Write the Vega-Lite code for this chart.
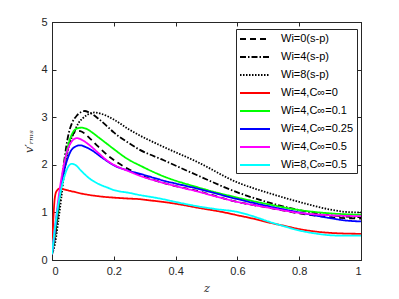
{
  "$schema": "https://vega.github.io/schema/vega-lite/v6.json",
  "width": 309,
  "height": 238,
  "autosize": "none",
  "padding": {"left": 52, "top": 22, "right": 38, "bottom": 39},
  "background": "white",
  "config": {
    "view": {"stroke": "#262626", "strokeWidth": 1},
    "axis": {
      "grid": false,
      "domainColor": "#262626",
      "tickColor": "#262626",
      "labelColor": "#262626",
      "titleColor": "#262626",
      "labelFont": "Liberation Sans",
      "labelFontSize": 11,
      "tickSize": -4,
      "labelFontWeight": "normal"
    },
    "legend": {
      "symbolType": "M-2.5,0H2.5",
      "symbolSize": 144,
      "symbolOffset": 9,
      "symbolStrokeWidth": 2,
      "labelOffset": 19,
      "labelFont": "Liberation Sans",
      "labelFontSize": 11,
      "labelColor": "#000000",
      "strokeColor": "#262626",
      "fillColor": "white",
      "padding": 3,
      "rowPadding": 6
    }
  },
  "datasets": {
    "d": [
      {"s": "Wi=0(s-p)", "z": 0, "v": 0.12}, {"s": "Wi=0(s-p)", "z": 0.01, "v": 0.55}, {"s": "Wi=0(s-p)", "z": 0.02, "v": 1.05}, {"s": "Wi=0(s-p)", "z": 0.03, "v": 1.55}, {"s": "Wi=0(s-p)", "z": 0.04, "v": 1.95}, {"s": "Wi=0(s-p)", "z": 0.05, "v": 2.3}, {"s": "Wi=0(s-p)", "z": 0.065, "v": 2.6}, {"s": "Wi=0(s-p)", "z": 0.08, "v": 2.72}, {"s": "Wi=0(s-p)", "z": 0.095, "v": 2.7}, {"s": "Wi=0(s-p)", "z": 0.12, "v": 2.57}, {"s": "Wi=0(s-p)", "z": 0.15, "v": 2.38}, {"s": "Wi=0(s-p)", "z": 0.18, "v": 2.2}, {"s": "Wi=0(s-p)", "z": 0.2, "v": 2.1}, {"s": "Wi=0(s-p)", "z": 0.25, "v": 1.9}, {"s": "Wi=0(s-p)", "z": 0.28, "v": 1.8}, {"s": "Wi=0(s-p)", "z": 0.36, "v": 1.62}, {"s": "Wi=0(s-p)", "z": 0.47, "v": 1.45}, {"s": "Wi=0(s-p)", "z": 0.6, "v": 1.22}, {"s": "Wi=0(s-p)", "z": 0.7, "v": 1.1}, {"s": "Wi=0(s-p)", "z": 0.8, "v": 0.98}, {"s": "Wi=0(s-p)", "z": 0.9, "v": 0.9}, {"s": "Wi=0(s-p)", "z": 1.0, "v": 0.87},

      {"s": "Wi=4(s-p)", "z": 0, "v": 0.12}, {"s": "Wi=4(s-p)", "z": 0.01, "v": 0.5}, {"s": "Wi=4(s-p)", "z": 0.02, "v": 1.0}, {"s": "Wi=4(s-p)", "z": 0.03, "v": 1.55}, {"s": "Wi=4(s-p)", "z": 0.04, "v": 2.1}, {"s": "Wi=4(s-p)", "z": 0.052, "v": 2.6}, {"s": "Wi=4(s-p)", "z": 0.065, "v": 2.88}, {"s": "Wi=4(s-p)", "z": 0.08, "v": 3.03}, {"s": "Wi=4(s-p)", "z": 0.095, "v": 3.11}, {"s": "Wi=4(s-p)", "z": 0.106, "v": 3.13}, {"s": "Wi=4(s-p)", "z": 0.12, "v": 3.1}, {"s": "Wi=4(s-p)", "z": 0.15, "v": 2.97}, {"s": "Wi=4(s-p)", "z": 0.18, "v": 2.8}, {"s": "Wi=4(s-p)", "z": 0.2, "v": 2.68}, {"s": "Wi=4(s-p)", "z": 0.25, "v": 2.45}, {"s": "Wi=4(s-p)", "z": 0.28, "v": 2.33}, {"s": "Wi=4(s-p)", "z": 0.36, "v": 2.1}, {"s": "Wi=4(s-p)", "z": 0.47, "v": 1.78}, {"s": "Wi=4(s-p)", "z": 0.6, "v": 1.42}, {"s": "Wi=4(s-p)", "z": 0.7, "v": 1.21}, {"s": "Wi=4(s-p)", "z": 0.8, "v": 1.05}, {"s": "Wi=4(s-p)", "z": 0.9, "v": 0.94}, {"s": "Wi=4(s-p)", "z": 1.0, "v": 0.9},

      {"s": "Wi=8(s-p)", "z": 0, "v": 0.12}, {"s": "Wi=8(s-p)", "z": 0.01, "v": 0.35}, {"s": "Wi=8(s-p)", "z": 0.02, "v": 0.8}, {"s": "Wi=8(s-p)", "z": 0.03, "v": 1.3}, {"s": "Wi=8(s-p)", "z": 0.04, "v": 1.85}, {"s": "Wi=8(s-p)", "z": 0.05, "v": 2.25}, {"s": "Wi=8(s-p)", "z": 0.06, "v": 2.5}, {"s": "Wi=8(s-p)", "z": 0.073, "v": 2.7}, {"s": "Wi=8(s-p)", "z": 0.085, "v": 2.87}, {"s": "Wi=8(s-p)", "z": 0.1, "v": 2.98}, {"s": "Wi=8(s-p)", "z": 0.12, "v": 3.07}, {"s": "Wi=8(s-p)", "z": 0.138, "v": 3.1}, {"s": "Wi=8(s-p)", "z": 0.16, "v": 3.07}, {"s": "Wi=8(s-p)", "z": 0.2, "v": 2.95}, {"s": "Wi=8(s-p)", "z": 0.25, "v": 2.74}, {"s": "Wi=8(s-p)", "z": 0.28, "v": 2.63}, {"s": "Wi=8(s-p)", "z": 0.36, "v": 2.38}, {"s": "Wi=8(s-p)", "z": 0.47, "v": 2.06}, {"s": "Wi=8(s-p)", "z": 0.6, "v": 1.63}, {"s": "Wi=8(s-p)", "z": 0.7, "v": 1.41}, {"s": "Wi=8(s-p)", "z": 0.8, "v": 1.22}, {"s": "Wi=8(s-p)", "z": 0.9, "v": 1.06}, {"s": "Wi=8(s-p)", "z": 0.95, "v": 1.01}, {"s": "Wi=8(s-p)", "z": 1.0, "v": 1.0},

      {"s": "Wi=4,C∞=0", "z": 0, "v": 0.12}, {"s": "Wi=4,C∞=0", "z": 0.004, "v": 0.8}, {"s": "Wi=4,C∞=0", "z": 0.009, "v": 1.3}, {"s": "Wi=4,C∞=0", "z": 0.015, "v": 1.45}, {"s": "Wi=4,C∞=0", "z": 0.025, "v": 1.5}, {"s": "Wi=4,C∞=0", "z": 0.035, "v": 1.49}, {"s": "Wi=4,C∞=0", "z": 0.06, "v": 1.45}, {"s": "Wi=4,C∞=0", "z": 0.1, "v": 1.39}, {"s": "Wi=4,C∞=0", "z": 0.15, "v": 1.34}, {"s": "Wi=4,C∞=0", "z": 0.2, "v": 1.31}, {"s": "Wi=4,C∞=0", "z": 0.25, "v": 1.29}, {"s": "Wi=4,C∞=0", "z": 0.28, "v": 1.28}, {"s": "Wi=4,C∞=0", "z": 0.32, "v": 1.25}, {"s": "Wi=4,C∞=0", "z": 0.36, "v": 1.22}, {"s": "Wi=4,C∞=0", "z": 0.42, "v": 1.16}, {"s": "Wi=4,C∞=0", "z": 0.47, "v": 1.1}, {"s": "Wi=4,C∞=0", "z": 0.55, "v": 1.01}, {"s": "Wi=4,C∞=0", "z": 0.6, "v": 0.94}, {"s": "Wi=4,C∞=0", "z": 0.65, "v": 0.87}, {"s": "Wi=4,C∞=0", "z": 0.7, "v": 0.79}, {"s": "Wi=4,C∞=0", "z": 0.75, "v": 0.72}, {"s": "Wi=4,C∞=0", "z": 0.8, "v": 0.65}, {"s": "Wi=4,C∞=0", "z": 0.85, "v": 0.6}, {"s": "Wi=4,C∞=0", "z": 0.9, "v": 0.57}, {"s": "Wi=4,C∞=0", "z": 0.95, "v": 0.555}, {"s": "Wi=4,C∞=0", "z": 1.0, "v": 0.55},

      {"s": "Wi=4,C∞=0.1", "z": 0, "v": 0.12}, {"s": "Wi=4,C∞=0.1", "z": 0.01, "v": 0.6}, {"s": "Wi=4,C∞=0.1", "z": 0.02, "v": 1.1}, {"s": "Wi=4,C∞=0.1", "z": 0.03, "v": 1.6}, {"s": "Wi=4,C∞=0.1", "z": 0.04, "v": 2.0}, {"s": "Wi=4,C∞=0.1", "z": 0.052, "v": 2.4}, {"s": "Wi=4,C∞=0.1", "z": 0.065, "v": 2.65}, {"s": "Wi=4,C∞=0.1", "z": 0.08, "v": 2.76}, {"s": "Wi=4,C∞=0.1", "z": 0.095, "v": 2.78}, {"s": "Wi=4,C∞=0.1", "z": 0.11, "v": 2.76}, {"s": "Wi=4,C∞=0.1", "z": 0.13, "v": 2.68}, {"s": "Wi=4,C∞=0.1", "z": 0.15, "v": 2.58}, {"s": "Wi=4,C∞=0.1", "z": 0.18, "v": 2.43}, {"s": "Wi=4,C∞=0.1", "z": 0.2, "v": 2.33}, {"s": "Wi=4,C∞=0.1", "z": 0.25, "v": 2.1}, {"s": "Wi=4,C∞=0.1", "z": 0.28, "v": 2.0}, {"s": "Wi=4,C∞=0.1", "z": 0.36, "v": 1.76}, {"s": "Wi=4,C∞=0.1", "z": 0.47, "v": 1.53}, {"s": "Wi=4,C∞=0.1", "z": 0.6, "v": 1.31}, {"s": "Wi=4,C∞=0.1", "z": 0.7, "v": 1.17}, {"s": "Wi=4,C∞=0.1", "z": 0.8, "v": 1.05}, {"s": "Wi=4,C∞=0.1", "z": 0.9, "v": 0.98}, {"s": "Wi=4,C∞=0.1", "z": 1.0, "v": 0.95},

      {"s": "Wi=4,C∞=0.25", "z": 0, "v": 0.12}, {"s": "Wi=4,C∞=0.25", "z": 0.01, "v": 0.65}, {"s": "Wi=4,C∞=0.25", "z": 0.02, "v": 1.15}, {"s": "Wi=4,C∞=0.25", "z": 0.03, "v": 1.6}, {"s": "Wi=4,C∞=0.25", "z": 0.04, "v": 1.9}, {"s": "Wi=4,C∞=0.25", "z": 0.05, "v": 2.12}, {"s": "Wi=4,C∞=0.25", "z": 0.06, "v": 2.28}, {"s": "Wi=4,C∞=0.25", "z": 0.075, "v": 2.38}, {"s": "Wi=4,C∞=0.25", "z": 0.09, "v": 2.41}, {"s": "Wi=4,C∞=0.25", "z": 0.11, "v": 2.37}, {"s": "Wi=4,C∞=0.25", "z": 0.13, "v": 2.3}, {"s": "Wi=4,C∞=0.25", "z": 0.16, "v": 2.16}, {"s": "Wi=4,C∞=0.25", "z": 0.18, "v": 2.07}, {"s": "Wi=4,C∞=0.25", "z": 0.2, "v": 1.99}, {"s": "Wi=4,C∞=0.25", "z": 0.236, "v": 1.9}, {"s": "Wi=4,C∞=0.25", "z": 0.28, "v": 1.82}, {"s": "Wi=4,C∞=0.25", "z": 0.36, "v": 1.67}, {"s": "Wi=4,C∞=0.25", "z": 0.47, "v": 1.5}, {"s": "Wi=4,C∞=0.25", "z": 0.6, "v": 1.28}, {"s": "Wi=4,C∞=0.25", "z": 0.7, "v": 1.13}, {"s": "Wi=4,C∞=0.25", "z": 0.8, "v": 1.0}, {"s": "Wi=4,C∞=0.25", "z": 0.9, "v": 0.88}, {"s": "Wi=4,C∞=0.25", "z": 0.95, "v": 0.83}, {"s": "Wi=4,C∞=0.25", "z": 1.0, "v": 0.81},

      {"s": "Wi=4,C∞=0.5", "z": 0, "v": 0.12}, {"s": "Wi=4,C∞=0.5", "z": 0.01, "v": 0.7}, {"s": "Wi=4,C∞=0.5", "z": 0.02, "v": 1.25}, {"s": "Wi=4,C∞=0.5", "z": 0.03, "v": 1.7}, {"s": "Wi=4,C∞=0.5", "z": 0.04, "v": 2.05}, {"s": "Wi=4,C∞=0.5", "z": 0.05, "v": 2.3}, {"s": "Wi=4,C∞=0.5", "z": 0.065, "v": 2.5}, {"s": "Wi=4,C∞=0.5", "z": 0.08, "v": 2.56}, {"s": "Wi=4,C∞=0.5", "z": 0.095, "v": 2.53}, {"s": "Wi=4,C∞=0.5", "z": 0.12, "v": 2.42}, {"s": "Wi=4,C∞=0.5", "z": 0.15, "v": 2.25}, {"s": "Wi=4,C∞=0.5", "z": 0.18, "v": 2.08}, {"s": "Wi=4,C∞=0.5", "z": 0.2, "v": 2.0}, {"s": "Wi=4,C∞=0.5", "z": 0.25, "v": 1.86}, {"s": "Wi=4,C∞=0.5", "z": 0.28, "v": 1.78}, {"s": "Wi=4,C∞=0.5", "z": 0.36, "v": 1.62}, {"s": "Wi=4,C∞=0.5", "z": 0.47, "v": 1.44}, {"s": "Wi=4,C∞=0.5", "z": 0.6, "v": 1.22}, {"s": "Wi=4,C∞=0.5", "z": 0.7, "v": 1.1}, {"s": "Wi=4,C∞=0.5", "z": 0.8, "v": 0.99}, {"s": "Wi=4,C∞=0.5", "z": 0.9, "v": 0.94}, {"s": "Wi=4,C∞=0.5", "z": 1.0, "v": 0.92},

      {"s": "Wi=8,C∞=0.5", "z": 0, "v": 0.12}, {"s": "Wi=8,C∞=0.5", "z": 0.01, "v": 0.7}, {"s": "Wi=8,C∞=0.5", "z": 0.02, "v": 1.15}, {"s": "Wi=8,C∞=0.5", "z": 0.03, "v": 1.5}, {"s": "Wi=8,C∞=0.5", "z": 0.04, "v": 1.75}, {"s": "Wi=8,C∞=0.5", "z": 0.05, "v": 1.93}, {"s": "Wi=8,C∞=0.5", "z": 0.063, "v": 2.02}, {"s": "Wi=8,C∞=0.5", "z": 0.075, "v": 2.0}, {"s": "Wi=8,C∞=0.5", "z": 0.095, "v": 1.87}, {"s": "Wi=8,C∞=0.5", "z": 0.12, "v": 1.72}, {"s": "Wi=8,C∞=0.5", "z": 0.15, "v": 1.6}, {"s": "Wi=8,C∞=0.5", "z": 0.18, "v": 1.52}, {"s": "Wi=8,C∞=0.5", "z": 0.2, "v": 1.47}, {"s": "Wi=8,C∞=0.5", "z": 0.25, "v": 1.41}, {"s": "Wi=8,C∞=0.5", "z": 0.28, "v": 1.37}, {"s": "Wi=8,C∞=0.5", "z": 0.35, "v": 1.29}, {"s": "Wi=8,C∞=0.5", "z": 0.4, "v": 1.22}, {"s": "Wi=8,C∞=0.5", "z": 0.47, "v": 1.13}, {"s": "Wi=8,C∞=0.5", "z": 0.53, "v": 1.07}, {"s": "Wi=8,C∞=0.5", "z": 0.6, "v": 1.01}, {"s": "Wi=8,C∞=0.5", "z": 0.65, "v": 0.92}, {"s": "Wi=8,C∞=0.5", "z": 0.7, "v": 0.81}, {"s": "Wi=8,C∞=0.5", "z": 0.75, "v": 0.71}, {"s": "Wi=8,C∞=0.5", "z": 0.8, "v": 0.62}, {"s": "Wi=8,C∞=0.5", "z": 0.85, "v": 0.56}, {"s": "Wi=8,C∞=0.5", "z": 0.9, "v": 0.52}, {"s": "Wi=8,C∞=0.5", "z": 0.95, "v": 0.51}, {"s": "Wi=8,C∞=0.5", "z": 1.0, "v": 0.51}
    ]
  },
  "data": {"name": "d"},
  "layer": [
    {
      "mark": {"type": "line", "interpolate": "monotone", "clip": true},
      "encoding": {
        "x": {"field": "z", "type": "quantitative", "scale": {"domain": [0, 1], "nice": false},
          "axis": {"values": [0, 0.2, 0.4, 0.6, 0.8, 1], "format": "~g", "title": "z", "titleFont": "DejaVu Serif", "titleFontStyle": "italic", "titleFontWeight": "normal", "titleFontSize": 11, "titlePadding": 6, "labelPadding": 9, "orient": "bottom"}},
        "y": {"field": "v", "type": "quantitative", "scale": {"domain": [0, 5], "nice": false},
          "axis": {"values": [0, 1, 2, 3, 4, 5], "format": "~g", "title": "v′ᵣₘₛ", "titleFont": "DejaVu Serif", "titleFontStyle": "italic", "titleFontWeight": "normal", "titleFontSize": 11, "titlePadding": 6, "labelPadding": 9, "orient": "left"}},
        "color": {"field": "s", "type": "nominal",
          "scale": {"domain": ["Wi=0(s-p)", "Wi=4(s-p)", "Wi=8(s-p)", "Wi=4,C∞=0", "Wi=4,C∞=0.1", "Wi=4,C∞=0.25", "Wi=4,C∞=0.5", "Wi=8,C∞=0.5"],
                    "range": ["#000000", "#000000", "#000000", "#ff0000", "#00ff00", "#0000ff", "#ff00ff", "#00ffff"]},
          "legend": {"title": null, "orient": "none", "legendX": 184, "legendY": 7}},
        "strokeDash": {"field": "s", "type": "nominal",
          "scale": {"domain": ["Wi=0(s-p)", "Wi=4(s-p)", "Wi=8(s-p)", "Wi=4,C∞=0", "Wi=4,C∞=0.1", "Wi=4,C∞=0.25", "Wi=4,C∞=0.5", "Wi=8,C∞=0.5"],
                    "range": [[6, 4], [6, 2, 1.5, 2], [1.5, 1.5], [1, 0], [1, 0], [1, 0], [1, 0], [1, 0]]},
          "legend": {"title": null, "orient": "none", "legendX": 184, "legendY": 7}},
        "strokeWidth": {"field": "s", "type": "nominal",
          "scale": {"domain": ["Wi=0(s-p)", "Wi=4(s-p)", "Wi=8(s-p)", "Wi=4,C∞=0", "Wi=4,C∞=0.1", "Wi=4,C∞=0.25", "Wi=4,C∞=0.5", "Wi=8,C∞=0.5"],
                    "range": [1.8, 1.8, 1.6, 2, 2, 2, 2, 2]},
          "legend": null}
      }
    },
    {
      "mark": {"type": "rule", "opacity": 0},
      "encoding": {
        "x": {"field": "z", "type": "quantitative", "axis": {"orient": "top", "values": [0, 0.2, 0.4, 0.6, 0.8, 1], "labels": false, "title": null}},
        "y": {"field": "v", "type": "quantitative", "axis": {"orient": "right", "values": [0, 1, 2, 3, 4, 5], "labels": false, "title": null}}
      }
    }
  ],
  "resolve": {"axis": {"x": "independent", "y": "independent"}}
}
